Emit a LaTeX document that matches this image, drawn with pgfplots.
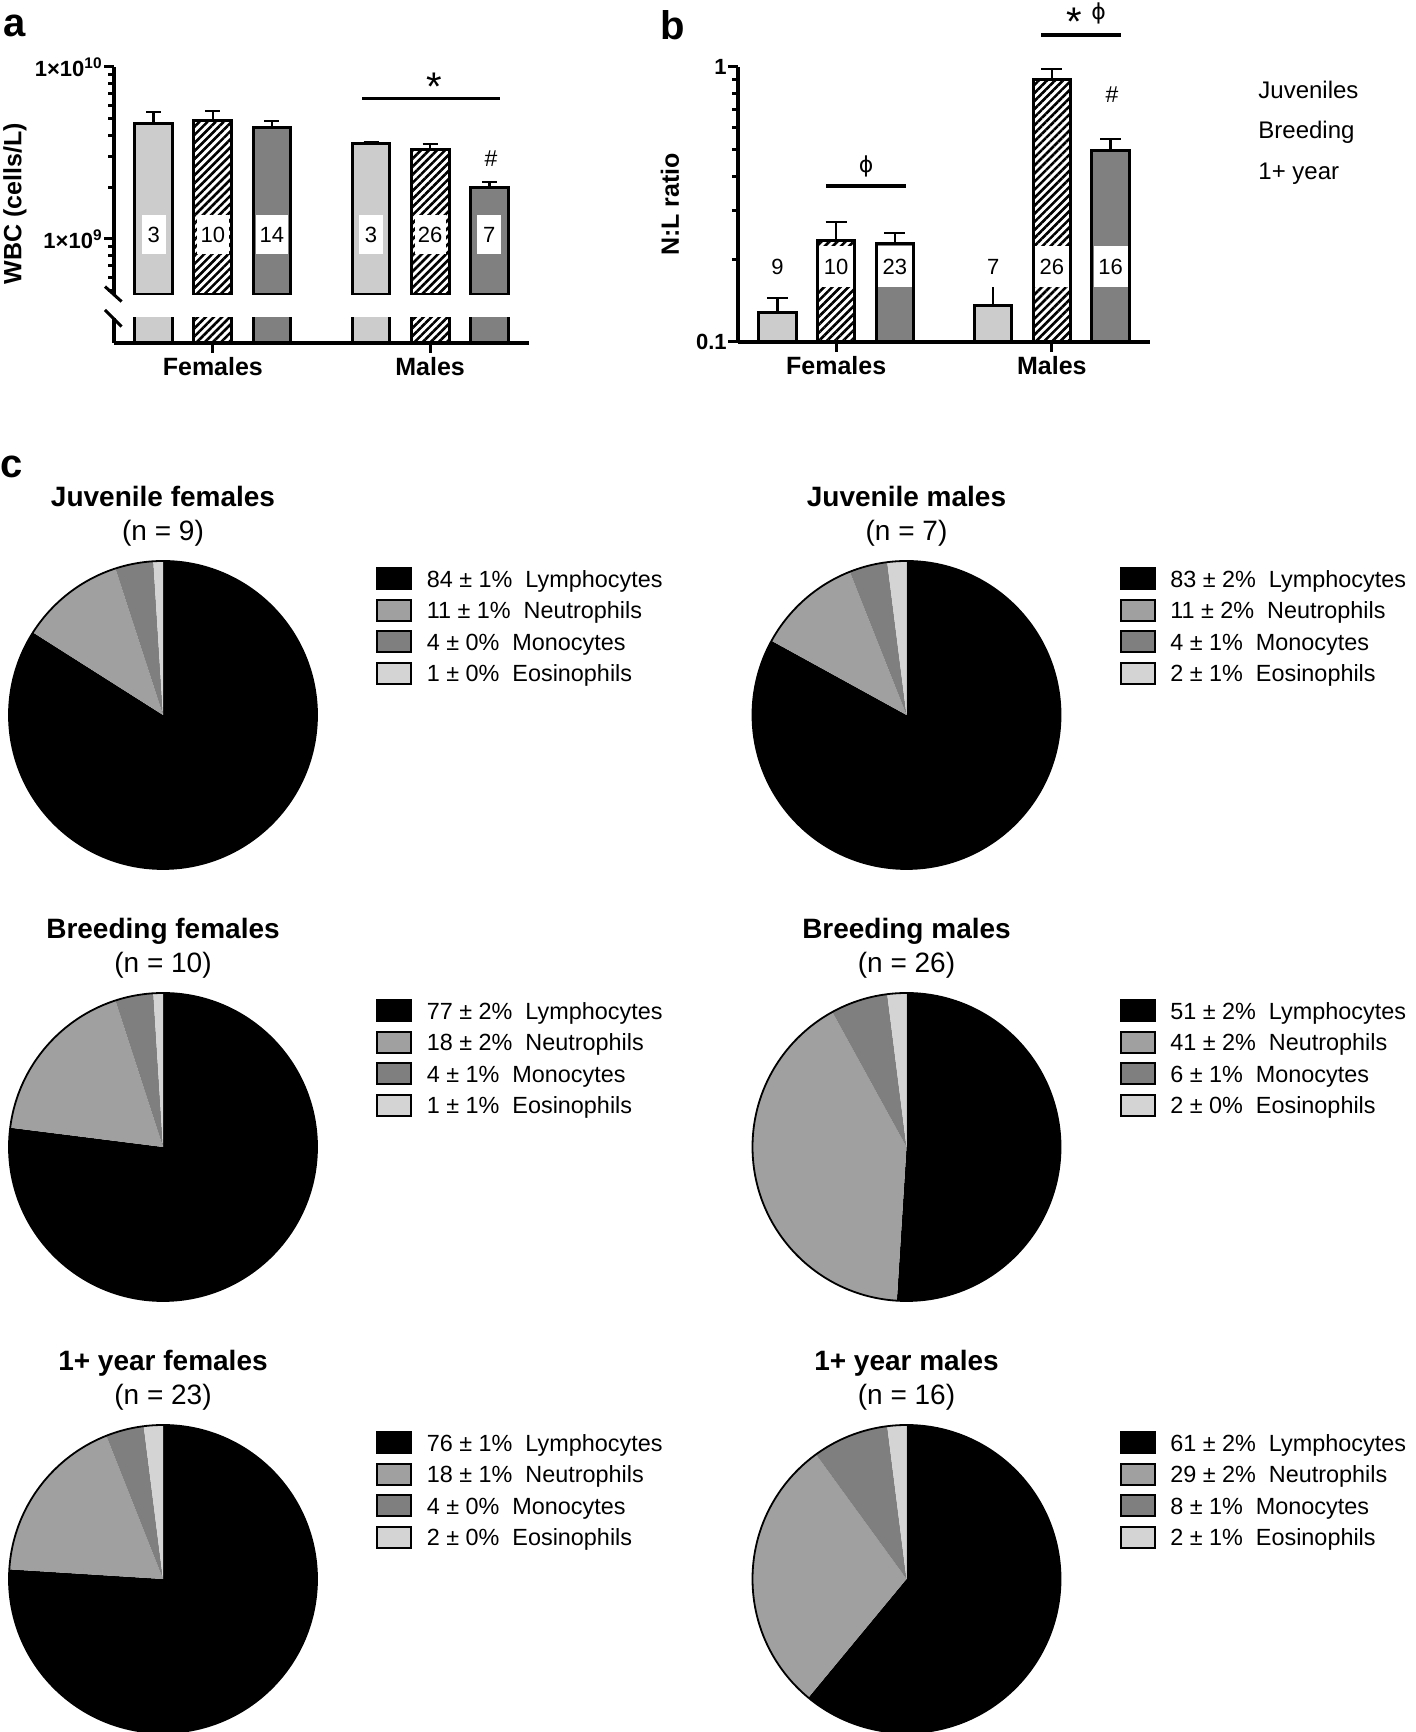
\documentclass[border=0pt]{standalone}
\usepackage{fontspec}
\setmainfont{Liberation Sans}
\newfontfamily\dejavu{DejaVu Sans}
\usepackage{pgfplots}
\pgfplotsset{compat=1.18}
\usepackage{pgfplotstable}
\usetikzlibrary{patterns.meta}

\definecolor{juv}{HTML}{CCCCCC}
\definecolor{old}{HTML}{808080}
\definecolor{neu}{HTML}{A0A0A0}
\definecolor{mono}{HTML}{7F7F7F}
\definecolor{eos}{HTML}{D4D4D4}

% WBC (cells/L): mean and upper SE
\pgfplotstableread{
grp juv    juverr  bre    breerr  old    olderr
1   4.66e9 0.81e9  4.86e9 0.69e9  4.42e9 0.43e9
2   3.61e9 0.05e9  3.33e9 0.24e9  2.00e9 0.14e9
}\wbc
% N:L ratio
\pgfplotstableread{
grp juv    juverr  bre    breerr  old    olderr
1   0.1285 0.016   0.233  0.040   0.229  0.020
2   0.136  0.024   0.897  0.087   0.495  0.052
}\nlr

\pgfplotsset{
  bars/.style={scale only axis, xmin=0.545, xmax=2.455,
    axis line style={-, line width=1.6pt},
    tick style={line width=1.5pt, black},
    major tick length=5pt, minor tick length=3pt, tick align=outside,
    xtick=\empty,
    xticklabel style={font=\bfseries\fontsize{12.5}{15}\selectfont, inner ysep=2pt},
    yticklabel style={font=\bfseries\fontsize{11}{13}\selectfont, inner xsep=0.5pt}},
  bar/.style={ybar, bar width=0.174, bar shift=0, draw=black, line width=1.5pt},
  juvbar/.style={bar, fill=juv},
  brebar/.style={bar, pattern={Lines[angle=45, distance=2.85pt, line width=1.3pt]}},
  oldbar/.style={bar, fill=old},
  pie/.style={scale only axis, width=154pt, height=154pt, anchor=center,
    xmin=-1, xmax=1, ymin=-1, ymax=1, hide axis, clip=false,
    legend style={at={(axis description cs:1.1915,0.9805)}, anchor=north west,
      draw=none, fill=none, inner sep=0pt, row sep=3.4pt, column sep=7.2pt,
      font=\fontsize{11.7}{14}\selectfont,
      cells={anchor=base west},
      nodes={inner sep=0pt, text height=9.5pt, text depth=2.5pt, anchor=base west}},
    legend image code/.code={\draw[line width=1pt,##1] (0pt,-1.15pt) rectangle (17pt,9.35pt);}},
}
\tikzset{
  lab/.style={font=\bfseries\fontsize{20}{24}\selectfont, anchor=base west, inner sep=0pt},
  ttl/.style={font=\bfseries\fontsize{14}{17}\selectfont, anchor=base, inner sep=0pt},
  nn/.style={font=\fontsize{14}{17}\selectfont, anchor=base, inner sep=0pt},
  cnta/.style={fill=white, font=\fontsize{11}{13}\selectfont, inner xsep=1.7pt, inner ysep=0pt,
    minimum height=19.5pt, minimum width=12pt},
  cntb/.style={fill=white, font=\fontsize{11}{13}\selectfont, inner sep=0pt,
    minimum height=20.5pt, minimum width=17pt},
  star/.style={font=\fontsize{20}{24}\selectfont, anchor=base, inner sep=0pt},
  hash/.style={font=\fontsize{11.5}{14}\selectfont, anchor=base, inner sep=0pt},
  phi/.style={font=\dejavu\fontsize{11}{13}\selectfont, anchor=base, inner sep=0pt},
  sig/.style={line width=1.6pt},
}

% pie slices, clockwise from 12 o'clock; #2,#3 = cumulative percent
\newcommand\pieR{77pt}
\newcommand\slice[3]{\fill[#1] (axis cs:0,0) -- (axis cs:{cos(90-3.6*(#3))},{sin(90-3.6*(#3))})
  arc[start angle={90-3.6*(#3)}, end angle={90-3.6*(#2)}, radius=\pieR] -- cycle;}
\newcommand\pieslices[4]{%
  \slice{black}{0}{#1}
  \slice{neu}{#1}{#1+#2}
  \slice{mono}{#1+#2}{#1+#2+#3}
  \slice{eos}{#1+#2+#3}{100}
  \draw[line width=0.9pt] (axis cs:0,0) circle[radius=\pieR];
  \addlegendimage{fill=black}
  \addlegendimage{fill=neu}
  \addlegendimage{fill=mono}
  \addlegendimage{fill=eos}}

% grouped bars with upward error bars; #1 style, #2 column, #3 x offset, #4 table, #5 cap half-width
\newcommand\errbar[5]{%
  \addplot[#1, error bars/.cd, y dir=plus, y explicit,
    error bar style={line width=1.3pt, black},
    error mark options={rotate=90, mark size=#5, line width=1.3pt, black}]
    table[x expr=\thisrow{grp}+#3, y=#2, y error=#2err] {#4};}

\begin{document}
\begin{tikzpicture}
\useasboundingbox (0,0) rectangle (707.5pt,866pt);

% ---------- panel a ----------
\begin{axis}[bars, at={(57pt,718.5pt)}, anchor=south west, width=207.5pt, height=114pt,
  ymode=log, log origin=infty, ymin=4.725e8, ymax=1e10,
  axis x line=none, axis y line*=left,
  ytick={1e9,1e10}, yticklabels={1×10\textsuperscript{9},1×10\textsuperscript{10}},
  minor ytick={5e8,6e8,7e8,8e8,9e8,2e9,3e9,4e9,5e9,6e9,7e9,8e9,9e9}]
  \errbar{juvbar}{juv}{-0.272}{\wbc}{3.75pt}
  \errbar{brebar}{bre}{0}{\wbc}{3.75pt}
  \errbar{oldbar}{old}{0.272}{\wbc}{3.75pt}
  \node[cnta] at (axis cs:0.728,1.055e9) {3};
  \node[cnta] at (axis cs:1,1.055e9) {10};
  \node[cnta] at (axis cs:1.272,1.055e9) {14};
  \node[cnta] at (axis cs:1.728,1.055e9) {3};
  \node[cnta] at (axis cs:2,1.055e9) {26};
  \node[cnta] at (axis cs:2.272,1.055e9) {7};
\end{axis}
\begin{axis}[bars, at={(57pt,694.5pt)}, anchor=south west, width=207.5pt, height=12.5pt,
  ymin=0, ymax=4.725e8, axis x line*=bottom, axis y line*=left,
  ytick=\empty, xtick={1,2}, xticklabels={Females,Males}]
  \addplot[juvbar] table[x expr=\thisrow{grp}-0.272, y=juv] {\wbc};
  \addplot[brebar] table[x=grp, y=bre] {\wbc};
  \addplot[oldbar] table[x expr=\thisrow{grp}+0.272, y=old] {\wbc};
\end{axis}
\draw[line width=1.5pt] (52.5pt,722.7pt) -- (60.8pt,715.2pt);
\draw[line width=1.5pt] (52.5pt,711pt) -- (60.8pt,702.7pt);
\node[rotate=90, font=\bfseries\fontsize{12.5}{15}\selectfont] at (7.5pt,764.25pt) {WBC (cells/L)};
\draw[sig] (181pt,816.65pt) -- (250pt,816.65pt);
\node[star] at (217pt,815.5pt) {*};
\node[hash] at (245.5pt,782.5pt) {\#};
\node[lab] at (1.5pt,847.5pt) {a};

% ---------- panel b ----------
\begin{axis}[bars, at={(369pt,695pt)}, anchor=south west, width=206pt, height=137.5pt,
  ymode=log, log origin=infty, ymin=0.1, ymax=1,
  axis x line*=bottom, axis y line*=left,
  ytick={0.1,1}, yticklabels={0.1,1},
  minor ytick={0.2,0.3,0.4,0.5,0.6,0.7,0.8,0.9},
  xtick={1,2}, xticklabels={Females,Males}]
  \errbar{juvbar}{juv}{-0.272}{\nlr}{5.25pt}
  \errbar{brebar}{bre}{0}{\nlr}{5.25pt}
  \errbar{oldbar}{old}{0.272}{\nlr}{5.25pt}
  \node[cntb] at (axis cs:0.728,0.1875) {9};
  \node[cntb] at (axis cs:1,0.1875) {10};
  \node[cntb] at (axis cs:1.272,0.1875) {23};
  \node[cntb] at (axis cs:1.728,0.1875) {7};
  \node[cntb] at (axis cs:2,0.1875) {26};
  \node[cntb] at (axis cs:2.272,0.1875) {16};
\end{axis}
\node[rotate=90, font=\bfseries\fontsize{12.5}{15}\selectfont] at (335pt,763.75pt) {N:L ratio};
\draw[sig] (413pt,773pt) -- (453pt,773pt);
\node[phi] at (433pt,779.8pt) {ϕ};
\draw[sig] (520.5pt,848.5pt) -- (560.5pt,848.5pt);
\node[star] at (537.25pt,848pt) {*};
\node[phi] at (549.25pt,856.3pt) {ϕ};
\node[hash] at (556pt,814.5pt) {\#};
\node[lab] at (330pt,846pt) {b};
\begin{scope}[every node/.style={anchor=base west, inner sep=0pt, font=\fontsize{12}{14}\selectfont}]
  \node at (629pt,816.75pt) {Juveniles};
  \node at (629pt,796.5pt) {Breeding};
  \node at (629pt,776.25pt) {1+ year};
\end{scope}

% ---------- panel c ----------
\node[lab] at (0pt,627pt) {c};

\begin{axis}[pie, at={(81.5pt,508.5pt)}]
  \pieslices{84}{11}{4}{1}
  \legend{84 ± 1\%\ \ Lymphocytes, 11 ± 1\%\ \ Neutrophils, 4 ± 0\%\ \ Monocytes, 1 ± 0\%\ \ Eosinophils}
\end{axis}
\node[ttl] at (81.5pt,612.75pt) {Juvenile females};
\node[nn] at (81.5pt,595.75pt) {(n = 9)};

\begin{axis}[pie, at={(453.25pt,508.5pt)}]
  \pieslices{83}{11}{4}{2}
  \legend{83 ± 2\%\ \ Lymphocytes, 11 ± 2\%\ \ Neutrophils, 4 ± 1\%\ \ Monocytes, 2 ± 1\%\ \ Eosinophils}
\end{axis}
\node[ttl] at (453.25pt,612.75pt) {Juvenile males};
\node[nn] at (453.25pt,595.75pt) {(n = 7)};

\begin{axis}[pie, at={(81.5pt,292.5pt)}]
  \pieslices{77}{18}{4}{1}
  \legend{77 ± 2\%\ \ Lymphocytes, 18 ± 2\%\ \ Neutrophils, 4 ± 1\%\ \ Monocytes, 1 ± 1\%\ \ Eosinophils}
\end{axis}
\node[ttl] at (81.5pt,396.75pt) {Breeding females};
\node[nn] at (81.5pt,379.75pt) {(n = 10)};

\begin{axis}[pie, at={(453.25pt,292.5pt)}]
  \pieslices{51}{41}{6}{2}
  \legend{51 ± 2\%\ \ Lymphocytes, 41 ± 2\%\ \ Neutrophils, 6 ± 1\%\ \ Monocytes, 2 ± 0\%\ \ Eosinophils}
\end{axis}
\node[ttl] at (453.25pt,396.75pt) {Breeding males};
\node[nn] at (453.25pt,379.75pt) {(n = 26)};

\begin{axis}[pie, at={(81.5pt,76.5pt)}]
  \pieslices{76}{18}{4}{2}
  \legend{76 ± 1\%\ \ Lymphocytes, 18 ± 1\%\ \ Neutrophils, 4 ± 0\%\ \ Monocytes, 2 ± 0\%\ \ Eosinophils}
\end{axis}
\node[ttl] at (81.5pt,180.75pt) {1+ year females};
\node[nn] at (81.5pt,163.75pt) {(n = 23)};

\begin{axis}[pie, at={(453.25pt,76.5pt)}]
  \pieslices{61}{29}{8}{2}
  \legend{61 ± 2\%\ \ Lymphocytes, 29 ± 2\%\ \ Neutrophils, 8 ± 1\%\ \ Monocytes, 2 ± 1\%\ \ Eosinophils}
\end{axis}
\node[ttl] at (453.25pt,180.75pt) {1+ year males};
\node[nn] at (453.25pt,163.75pt) {(n = 16)};
\end{tikzpicture}
\end{document}
